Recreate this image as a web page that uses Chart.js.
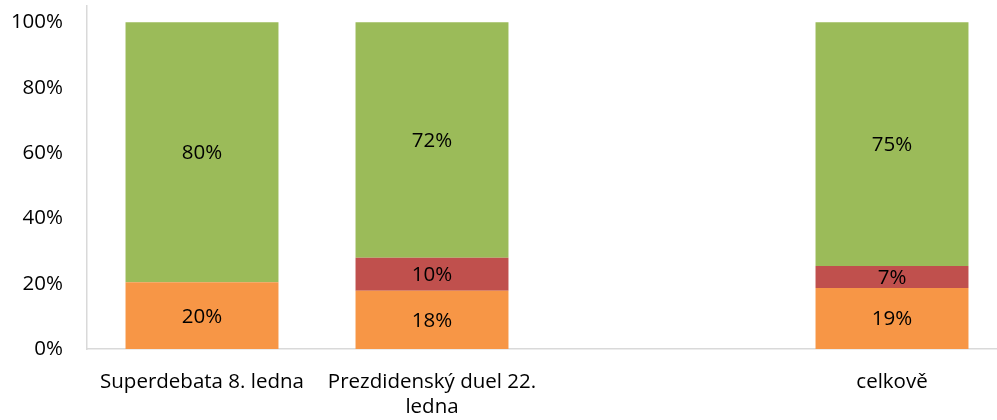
<!DOCTYPE html>
<html>
<head>
<meta charset="utf-8">
<script src="https://cdn.jsdelivr.net/npm/chart.js@4.4.1/dist/chart.umd.min.js"></script>
<style>
  html, body { margin: 0; padding: 0; background: #fff; overflow: hidden; }
  #wrap { width: 1007px; height: 420px; position: relative; }
</style>
</head>
<body>
<div id="wrap"><canvas id="mycanvas"></canvas></div>
<script>
// categories (third slot is empty in the original)
var categories = [['Superdebata 8. ledna'], ['Prezdidenský duel 22.', 'ledna'], [''], ['celkově']];
// series values in percent
var orangeValues = [20.4, 17.8, null, 18.7];
var redValues = [0, 10.1, null, 6.7];
var greenValues = [79.6, 72.1, null, 74.6];
var yTicks = [0, 20, 40, 60, 80, 100];

var fontFamily = "'Open Sans'";
var fontSize = 20.5;

// draw value labels in the middle of each bar segment
var barLabels = {
    id: 'barLabels',
    afterDatasetsDraw: function (chart) {
        var ctx = chart.ctx;
        ctx.save();
        ctx.font = fontSize + 'px ' + fontFamily;
        ctx.fillStyle = '#000000';
        ctx.textAlign = 'center';
        ctx.textBaseline = 'middle';
        chart.data.datasets.forEach(function (ds, i) {
            chart.getDatasetMeta(i).data.forEach(function (bar, j) {
                var v = ds.data[j];
                if (!v) return;
                ctx.fillText(Math.round(v) + '%', bar.x, (bar.y + bar.base) / 2 + 1);
            });
        });
        ctx.restore();
    }
};

var ctx = document.getElementById('mycanvas').getContext('2d');
var myChart = new Chart(ctx, {
    type: 'bar',
    data: {
        labels: categories,
        datasets: [
            {label: 'orange', data: orangeValues, backgroundColor: '#F79646'},
            {label: 'red', data: redValues, backgroundColor: '#C0504D'},
            {label: 'green', data: greenValues, backgroundColor: '#9BBB59'}
        ]
    },
    options: {
        responsive: true,
        maintainAspectRatio: false,
        animation: false,
        barPercentage: 0.665,
        categoryPercentage: 1,
        layout: {padding: {top: 6, left: 0, right: 0, bottom: 0}},
        plugins: {legend: {display: false}, tooltip: {enabled: false}},
        scales: {
            x: {
                stacked: true,
                grid: {display: false, drawTicks: false},
                border: {color: '#D9D9D9', width: 1.5},
                ticks: {
                    color: '#000000',
                    font: {family: fontFamily, size: fontSize, lineHeight: 1.22},
                    padding: 21,
                    maxRotation: 0,
                    autoSkip: false
                },
                afterFit: function (scale) {
                    scale.height = 71;
                    scale.paddingLeft = 0;
                    scale.paddingRight = 0;
                }
            },
            y: {
                stacked: true,
                min: 0,
                max: 105,
                grid: {display: false, drawTicks: false},
                border: {color: '#D9D9D9', width: 1.5},
                ticks: {
                    color: '#000000',
                    font: {family: fontFamily, size: fontSize},
                    padding: 24,
                    callback: function (v) { return v + '%'; }
                },
                afterBuildTicks: function (scale) {
                    scale.ticks = yTicks.map(function (v) { return {value: v}; });
                },
                afterFit: function (scale) {
                    scale.width = 87;
                    scale.paddingTop = 0;
                    scale.paddingBottom = 0;
                }
            }
        }
    },
    plugins: [barLabels]
});
</script>
</body>
</html>
